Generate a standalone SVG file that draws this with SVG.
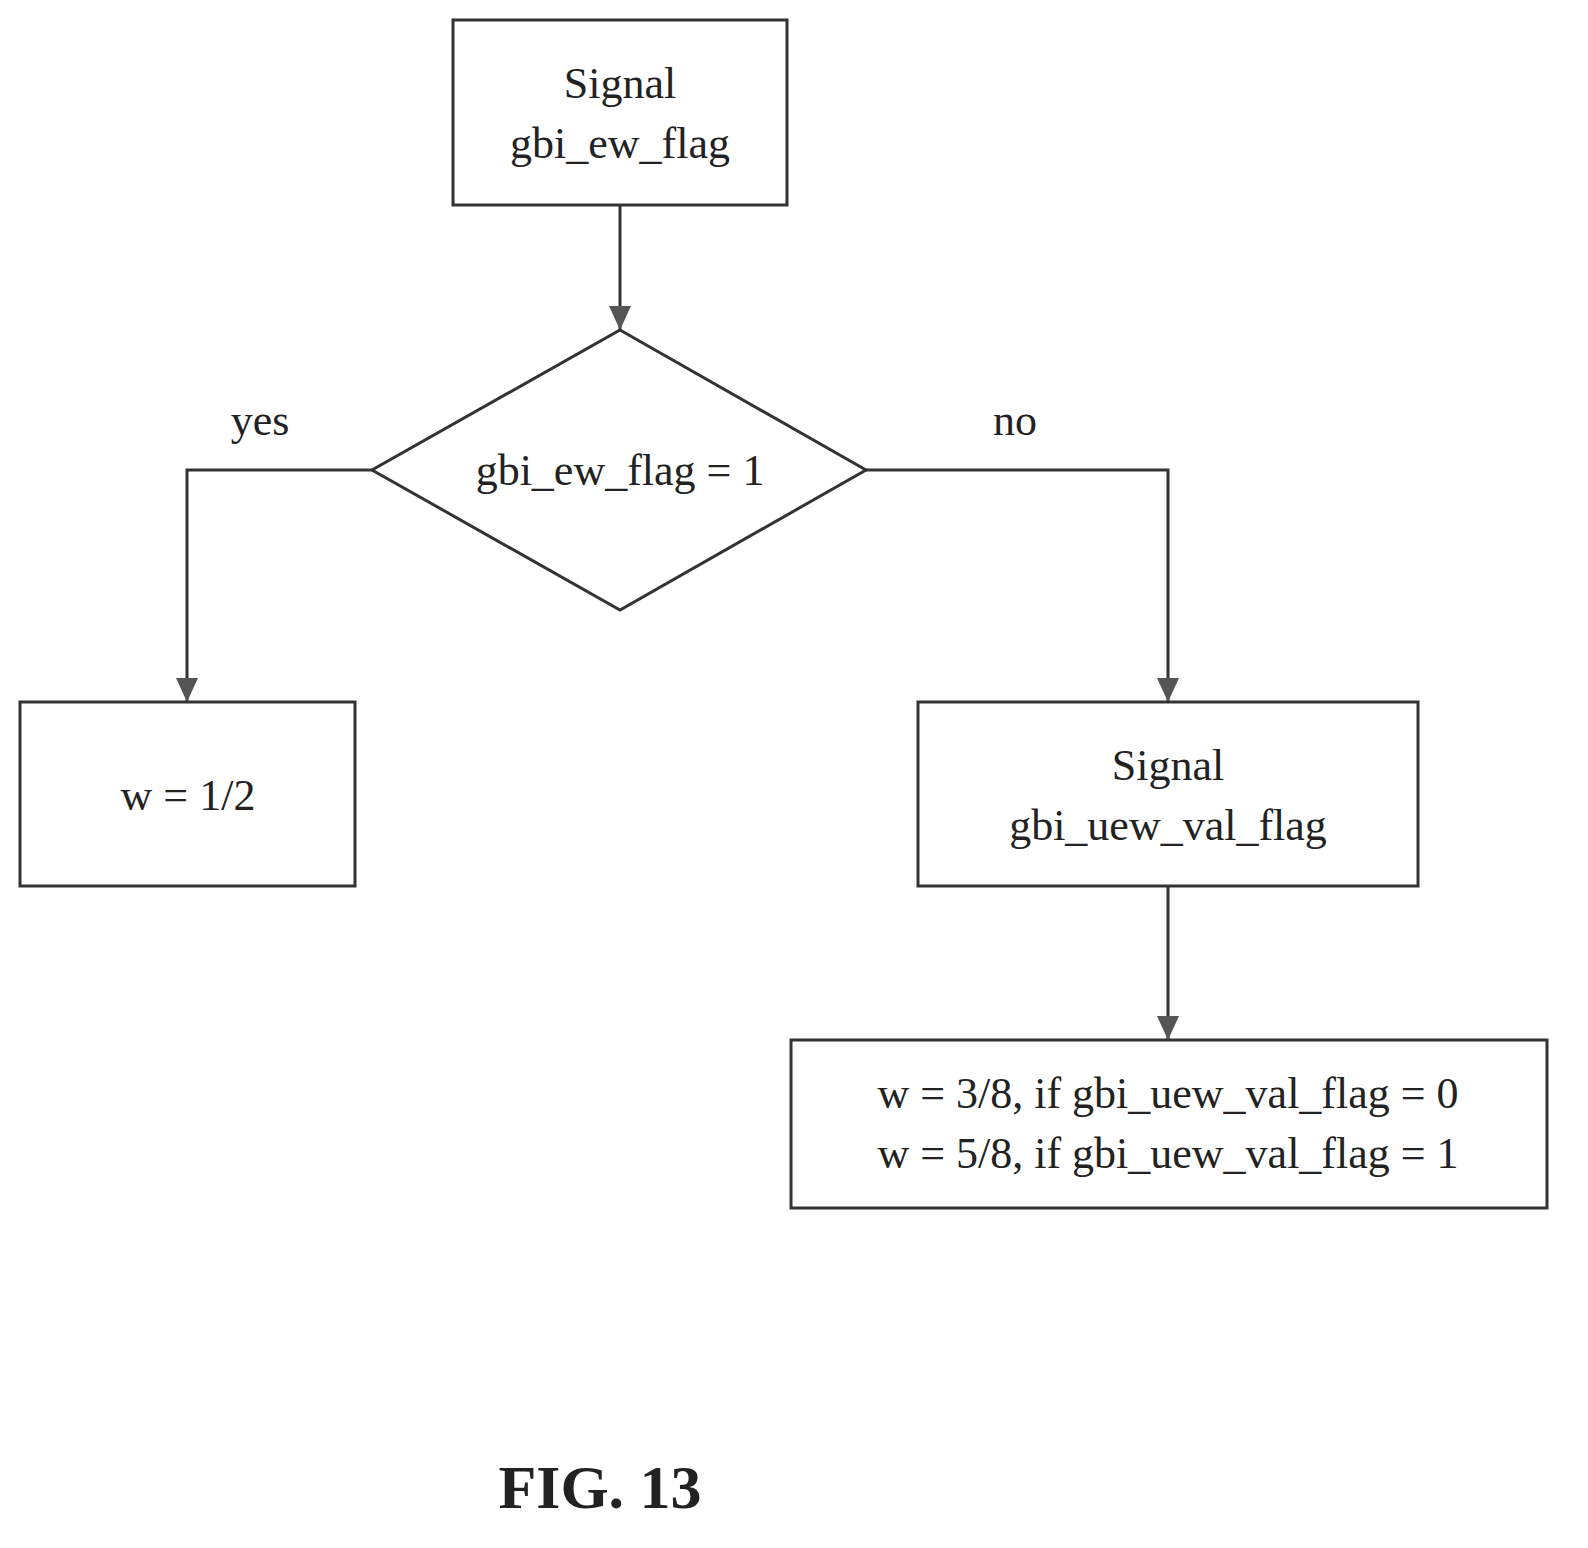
<svg xmlns="http://www.w3.org/2000/svg" width="1588" height="1548" viewBox="0 0 1588 1548">
<style>
.n{fill:#fff;stroke:#333;stroke-width:3}
.c{fill:none;stroke:#333;stroke-width:3}
text{font-family:"Liberation Serif",serif;font-size:44px;fill:#222;text-anchor:middle}
</style>
<defs><marker id="a" markerWidth="10" markerHeight="10" refX="9" refY="5" orient="auto" markerUnits="userSpaceOnUse" viewBox="0 0 10 10"><path d="M0,0L10,5L0,10z" fill="#333"/></marker>
<marker id="ar" markerWidth="26" markerHeight="26" refX="24" refY="13" orient="auto" markerUnits="userSpaceOnUse"><path d="M0,2L24,13L0,24z" fill="#555"/></marker></defs>
<rect width="1588" height="1548" fill="#fff"/>
<g id="connectors">
<path class="c" d="M620,205V330" marker-end="url(#ar)"/>
<path class="c" d="M372,470H187V702" marker-end="url(#ar)"/>
<path class="c" d="M866,470H1168V702" marker-end="url(#ar)"/>
<path class="c" d="M1168,886V1040" marker-end="url(#ar)"/>
<text x="260" y="435">yes</text>
<text x="1015" y="435">no</text>
</g>
<g id="start"><rect class="n" x="453" y="20" width="334" height="185"/><text x="620" y="98">Signal</text><text x="620" y="158">gbi_ew_flag</text></g>
<g id="decision"><path class="n" d="M620,330L866,470L620,610L372,470z"/><text x="620" y="485">gbi_ew_flag = 1</text></g>
<g id="yesbox"><rect class="n" x="20" y="702" width="335" height="184"/><text x="188" y="810">w = 1/2</text></g>
<g id="nobox"><rect class="n" x="918" y="702" width="500" height="184"/><text x="1168" y="780">Signal</text><text x="1168" y="840">gbi_uew_val_flag</text></g>
<g id="result"><rect class="n" x="791" y="1040" width="756" height="168"/><text x="1168" y="1108">w = 3/8, if gbi_uew_val_flag  = 0</text><text x="1168" y="1168">w = 5/8, if gbi_uew_val_flag  = 1</text></g>
<text x="600" y="1508" style="font-size:62px;font-weight:bold">FIG. 13</text>
</svg>
